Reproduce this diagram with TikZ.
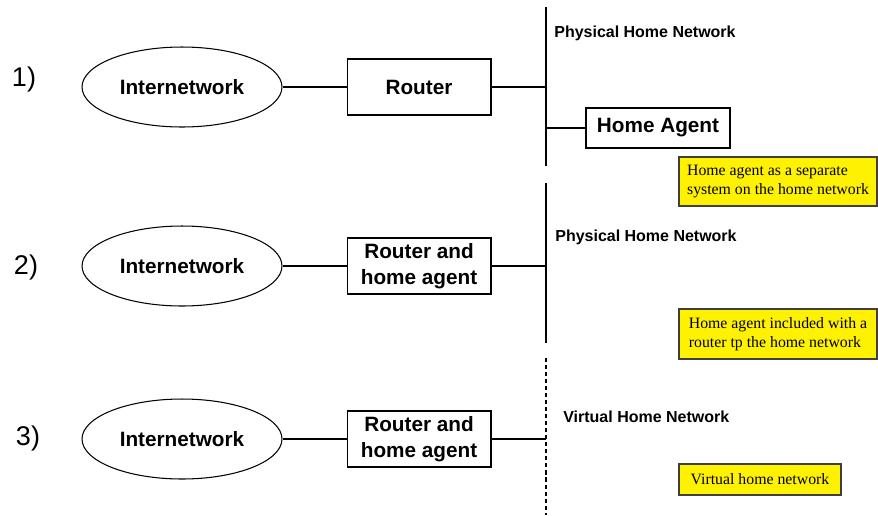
\documentclass[tikz,border=0pt]{standalone}
\usepackage{fontspec}
\setmainfont{Liberation Sans}
\newfontfamily\notefont{Liberation Serif}
\usepackage{tikz}
\usetikzlibrary{positioning,shapes.geometric}
\tikzset{NetCloud/.style={%
    shape=ellipse,%
    draw=black,%
    line width=0.6pt,%
    minimum width=4cm,%
    minimum height=1.6cm,%
    inner sep=0pt,%
    font=\fontsize{11.8}{14.2}\selectfont\bfseries,%
}}
\tikzset{RouterBox/.style={%
    shape=rectangle,%
    draw=black,%
    line width=0.6pt,%
    minimum width=2.88cm,%
    minimum height=1.12cm,%
    inner sep=0pt,%
    align=center,%
    font=\fontsize{11.8}{15}\selectfont\bfseries,%
}}
\tikzset{AgentBox/.style={%
    RouterBox,%
    minimum height=0.8cm,%
}}
\tikzset{RowNumber/.style={%
    inner sep=0pt,%
    font=\fontsize{15.4}{18}\selectfont,%
}}
\tikzset{BusLabel/.style={%
    anchor=west,%
    inner sep=0pt,%
    font=\fontsize{9.1}{11}\selectfont\bfseries,%
}}
\tikzset{NoteBox/.style={%
    shape=rectangle,%
    draw=black!75,%
    fill=yellow,%
    line width=0.8pt,%
    inner sep=0pt,%
    align=left,%
    font=\fontsize{9}{10.8}\selectfont\notefont,%
}}
\tikzset{NormalEdge/.style={%
    line width=1.1pt,%
}}
\tikzset{BusLine/.style={%
    line width=1.1pt,%
}}
\tikzset{VirtualBus/.style={%
    line width=0.8pt,%
    dash pattern=on 2.3pt off 1.7pt,%
}}

\begin{document}
\begin{tikzpicture}[x=0.02cm, y=-0.02cm]
    \useasboundingbox (0,0) rectangle (878,515);

    % row numbers
    \node[RowNumber] (n1) at (24,79) {1)};
    \node[RowNumber] (n2) at (26,267) {2)};
    \node[RowNumber] (n3) at (28,438) {3)};

    % internetworks and routers
    \node[NetCloud] (inet1) at (182,87) {Internetwork};
    \node[RouterBox, right=1.28cm of inet1] (rt1) {Router};
    \node[NetCloud] (inet2) at (182,266) {Internetwork};
    \node[RouterBox, right=1.28cm of inet2] (rt2) {Router and\\home agent};
    \node[NetCloud] (inet3) at (182,439) {Internetwork};
    \node[RouterBox, right=1.28cm of inet3] (rt3) {Router and\\home agent};

    % home networks
    \coordinate (bus1top) at (546,7);
    \coordinate (bus1bot) at (546,166);
    \coordinate (bus2top) at (546,183);
    \coordinate (bus2bot) at (546,343);
    \coordinate (bus3top) at (546,358);
    \coordinate (bus3bot) at (546,515);
    \node[AgentBox] (ha) at (658,128) {Home Agent};

    \node[BusLabel] (phn1) at (554,33) {Physical Home Network};
    \node[BusLabel] (phn2) at (555,237) {Physical Home Network};
    \node[BusLabel] (vhn) at (563,417) {Virtual Home Network};

    % notes
    \node[NoteBox, minimum width=3.96cm, minimum height=0.98cm] (note1) at (778,181.5)
        {Home agent as a separate\\system on the home network};
    \node[NoteBox, minimum width=3.96cm, minimum height=1cm] (note2) at (778,334)
        {Home agent included with a\\router tp the home network};
    \node[NoteBox, minimum width=3.24cm, minimum height=0.62cm] (note3) at (760,479.5)
        {Virtual home network};

    \path (bus1top) edge[BusLine] (bus1bot);
    \path (bus2top) edge[BusLine] (bus2bot);
    \path (bus3top) edge[VirtualBus] (bus3bot);

    \path (inet1) edge[NormalEdge] (rt1);
    \path (rt1) edge[NormalEdge] (rt1 -| bus1top);
    \path (ha) edge[NormalEdge] (ha -| bus1top);
    \path (inet2) edge[NormalEdge] (rt2);
    \path (rt2) edge[NormalEdge] (rt2 -| bus2top);
    \path (inet3) edge[NormalEdge] (rt3);
    \path (rt3) edge[NormalEdge] (rt3 -| bus3top);
\end{tikzpicture}
\end{document}
